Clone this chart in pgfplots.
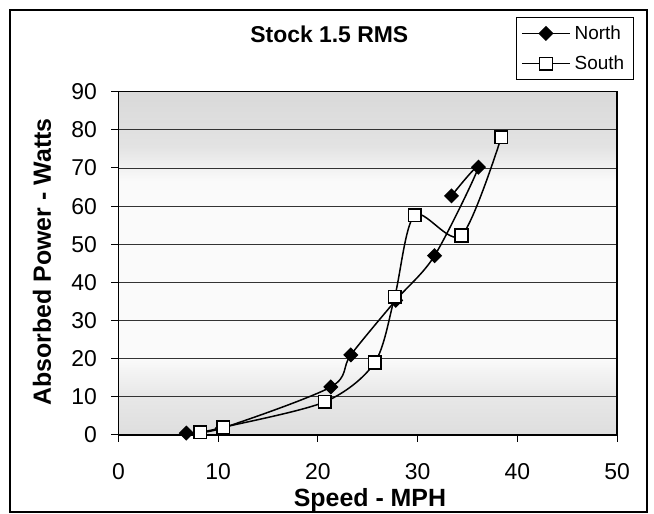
\documentclass[border=0pt]{standalone}
\usepackage{fontspec}
\setmainfont{Liberation Sans}
\usepackage{pgfplots}
\pgfplotsset{compat=1.18}
\pgfdeclareverticalshading{plotbg}{100bp}{color(0bp)=(black!13); color(25bp)=(black!13); color(31bp)=(black!9); color(36bp)=(black!2); color(62bp)=(black!2); color(67bp)=(black!11); color(75bp)=(black!15); color(100bp)=(black!15)}
\begin{document}
\begin{tikzpicture}[x=1bp,y=1bp]
\useasboundingbox (-118.5,-79) rectangle (535.5,435);
\draw[black, line width=1.2bp] (-108.5,-77) rectangle (528.5,425);
\begin{axis}[
  at={(0bp,0bp)}, anchor=south west,
  scale only axis, width=498.5bp, height=343.3bp,
  xmin=0, xmax=50, ymin=0, ymax=90,
  xtick={0,10,...,50}, ytick={0,10,...,90},
  axis background/.style={shading=plotbg},
  ymajorgrids, grid style={black!80, line width=0.8bp},
  axis line style={black, line width=1.2bp},
  tick align=outside, major tick length=7bp, tick style={black, line width=1bp},
  xtick pos=bottom, ytick pos=left,
  /pgf/number format/assume math mode=true,
  ticklabel style={font=\fontsize{23}{26}\selectfont, inner sep=0pt},
  xticklabel style={anchor=center, yshift=-29.7bp},
  yticklabel style={anchor=east, xshift=-14.5bp},
  xlabel={Speed - MPH}, ylabel={Absorbed Power - Watts},
  label style={font=\fontsize{25}{28}\selectfont\bfseries},
  xlabel style={at={(axis description cs:0.5045,-0.19)}, anchor=center},
  ylabel style={at={(axis description cs:-0.1535,0.504)}, anchor=center},
  title={Stock 1.5 RMS},
  title style={font=\fontsize{23}{26}\selectfont\bfseries, at={(axis description cs:0.4229,1.1486)}, anchor=center},
  legend style={at={(axis description cs:0.7968,1.2167)}, anchor=north west,
    draw=black, line width=1bp, fill=white, font=\fontsize{19}{21}\selectfont,
    inner xsep=5bp, inner ysep=6bp, row sep=11bp,
    nodes={inner xsep=4bp, inner ysep=2bp}},
  legend cell align=left,
  legend image code/.code={\draw[mark repeat=2, mark phase=2, #1] plot coordinates {(0bp,0bp) (24bp,0bp) (48bp,0bp)};},
]
\addplot[black, line width=1.5bp, smooth, mark=square*, mark size=4.6bp, mark options={rotate=45, fill=black, solid}]
  coordinates {(6.8,0.5) (10.4,1.8) (21.3,12.6) (23.3,21.0) (27.8,35.3) (31.7,47.0) (36.1,70.2) (33.4,62.7)};
\addlegendentry{North}
\addplot[black, line width=1.5bp, smooth, mark=square*, mark size=6.3bp, mark options={fill=white, solid}]
  coordinates {(8.2,0.7) (10.5,2.0) (20.7,8.7) (25.7,19.0) (27.7,36.2) (29.7,57.6) (34.4,52.3) (38.4,78.1)};
\addlegendentry{South}
\end{axis}
\end{tikzpicture}
\end{document}
